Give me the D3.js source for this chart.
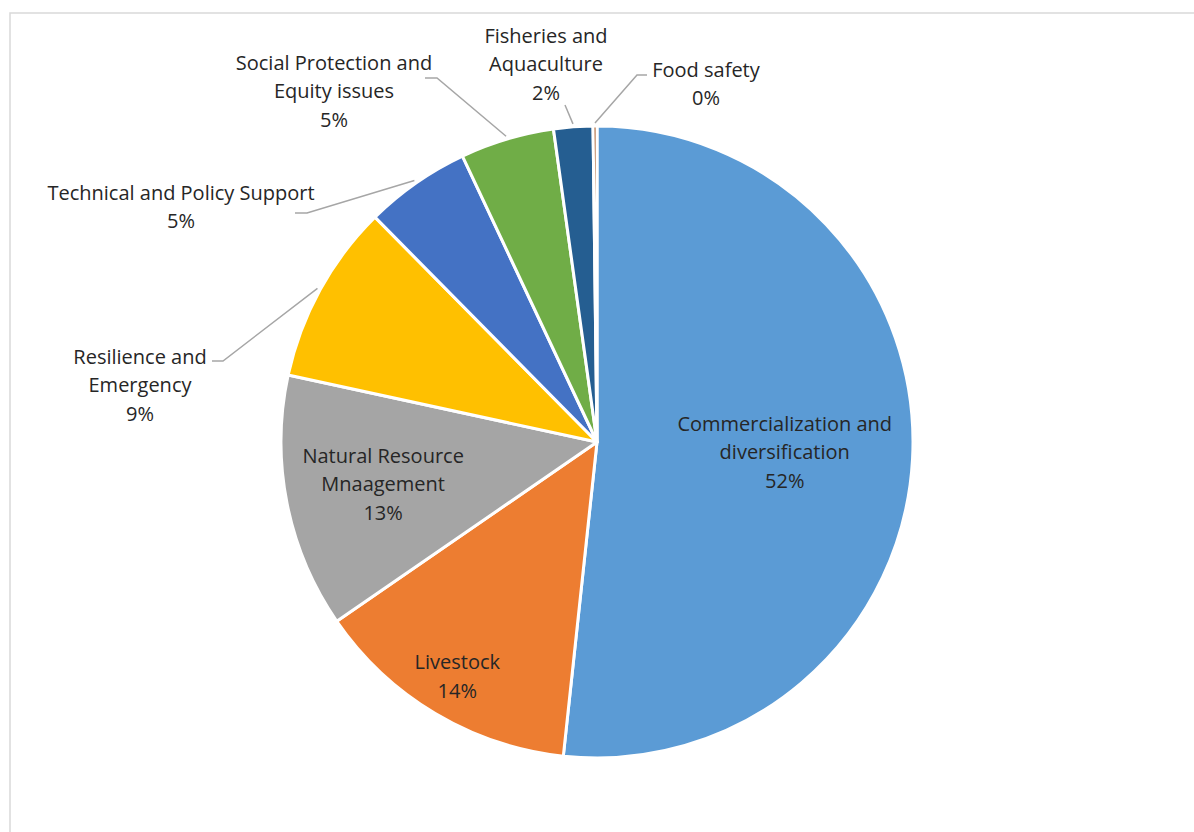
<!DOCTYPE html>
<html lang="en">
<head>
  <meta charset="UTF-8">
  <title>Pie chart</title>
  <style>
    body, html { margin: 0; padding: 0; background: #fff; }
    svg { display: block; font-family: "Open Sans", "Noto Sans", sans-serif; }
  </style>
</head>
<body>
  <svg id="svg" width="1194" height="832"></svg>

  <script src="https://cdn.jsdelivr.net/npm/d3@7"></script>
  <script>
    // data (share of total, %)
    const categories = [
      'Commercialization and diversification',
      'Livestock',
      'Natural Resource Mnaagement',
      'Resilience and Emergency',
      'Technical and Policy Support',
      'Social Protection and Equity issues',
      'Fisheries and Aquaculture',
      'Food safety'
    ]
    const values = [51.7, 13.7, 13.0, 9.2, 5.4, 4.8, 2.0, 0.2]
    const colors = ['#5B9BD5', '#ED7D31', '#A5A5A5', '#FFC000', '#4472C4', '#70AD47', '#255E91', '#9E480E']

    // how each label text is broken into lines
    const labelLines = [
      ['Commercialization and', 'diversification'],
      ['Livestock'],
      ['Natural Resource', 'Mnaagement'],
      ['Resilience and', 'Emergency'],
      ['Technical and Policy Support'],
      ['Social Protection and', 'Equity issues'],
      ['Fisheries and', 'Aquaculture'],
      ['Food safety']
    ]

    const width = 1194
    const height = 832
    const cx = 597
    const cy = 442
    const radius = 316
    const lineH = 28.5

    // label placement: inside labels sit on the slice's mid-angle at a given radius,
    // outside labels get a text centre and a leader elbow (relative to pie centre)
    const labelLayout = [
      { inside: true, r: 188 },
      { inside: true, r: 273 },
      { inside: true, r: 218 },
      { inside: false, tx: -457, ty: -57, elbow: [-374, -81], end: [-385, -81] },
      { inside: false, tx: -416, ty: -235, elbow: [-290, -229], end: [-302, -229] },
      { inside: false, tx: -263, ty: -351, elbow: [-160, -364], end: [-172, -364] },
      { inside: false, tx: -51, ty: -378, elbow: [-32, -337], end: null },
      { inside: false, tx: 109, ty: -358, elbow: [40, -367], end: [50, -367] }
    ]

    const data = categories.map((c, i) => ({ name: c, value: values[i], color: colors[i], lines: labelLines[i], layout: labelLayout[i] }))
    const total = d3.sum(values)

    const svg = d3.select('#svg')

    // chart-area border (only left and top edges fall inside the picture)
    svg.append('rect')
      .attr('x', 10)
      .attr('y', 13)
      .attr('width', width + 20)
      .attr('height', height + 20)
      .attr('fill', 'none')
      .attr('stroke', '#D9D9D9')
      .attr('stroke-width', 1.5)

    const pieGen = d3.pie().value(d => d.value).sort(null)
    const arcData = pieGen(data)

    const arcGen = d3.arc()
      .innerRadius(0)
      .outerRadius(radius)

    const g = svg.append('g')
      .attr('transform', `translate(${cx}, ${cy})`)

    g.selectAll('path.slice')
      .data(arcData)
      .enter()
      .append('path')
      .attr('class', 'slice')
      .attr('d', arcGen)
      .attr('fill', d => d.data.color)
      .attr('stroke', '#fff')
      .attr('stroke-width', 3)
      .attr('stroke-linejoin', 'round')

    const midAngle = d => (d.startAngle + d.endAngle) / 2

    // leader lines for outside labels
    g.selectAll('polyline.leader')
      .data(arcData.filter(d => !d.data.layout.inside))
      .enter()
      .append('polyline')
      .attr('class', 'leader')
      .attr('points', d => {
        const a = midAngle(d)
        const r0 = radius + 3
        const pts = [[Math.sin(a) * r0, -Math.cos(a) * r0], d.data.layout.elbow]
        if (d.data.layout.end) pts.push(d.data.layout.end)
        return pts.map(p => p.join(',')).join(' ')
      })
      .attr('fill', 'none')
      .attr('stroke', '#A6A6A6')
      .attr('stroke-width', 1.5)

    // labels
    g.selectAll('text.label')
      .data(arcData)
      .enter()
      .append('text')
      .attr('class', 'label')
      .attr('text-anchor', 'middle')
      .attr('font-size', 20)
      .attr('fill', '#262626')
      .each(function (d) {
        const lay = d.data.layout
        let x, y
        if (lay.inside) {
          const a = midAngle(d)
          x = Math.sin(a) * lay.r
          y = -Math.cos(a) * lay.r
        } else {
          x = lay.tx
          y = lay.ty
        }
        const lines = d.data.lines.concat([Math.round(d.data.value / total * 100) + '%'])
        const top = y - (lines.length - 1) * lineH / 2
        d3.select(this)
          .selectAll('tspan')
          .data(lines)
          .enter()
          .append('tspan')
          .attr('x', x)
          .attr('y', (t, i) => top + i * lineH)
          .attr('dy', '0.36em')
          .text(t => t)
      })
  </script>
</body>
</html>
